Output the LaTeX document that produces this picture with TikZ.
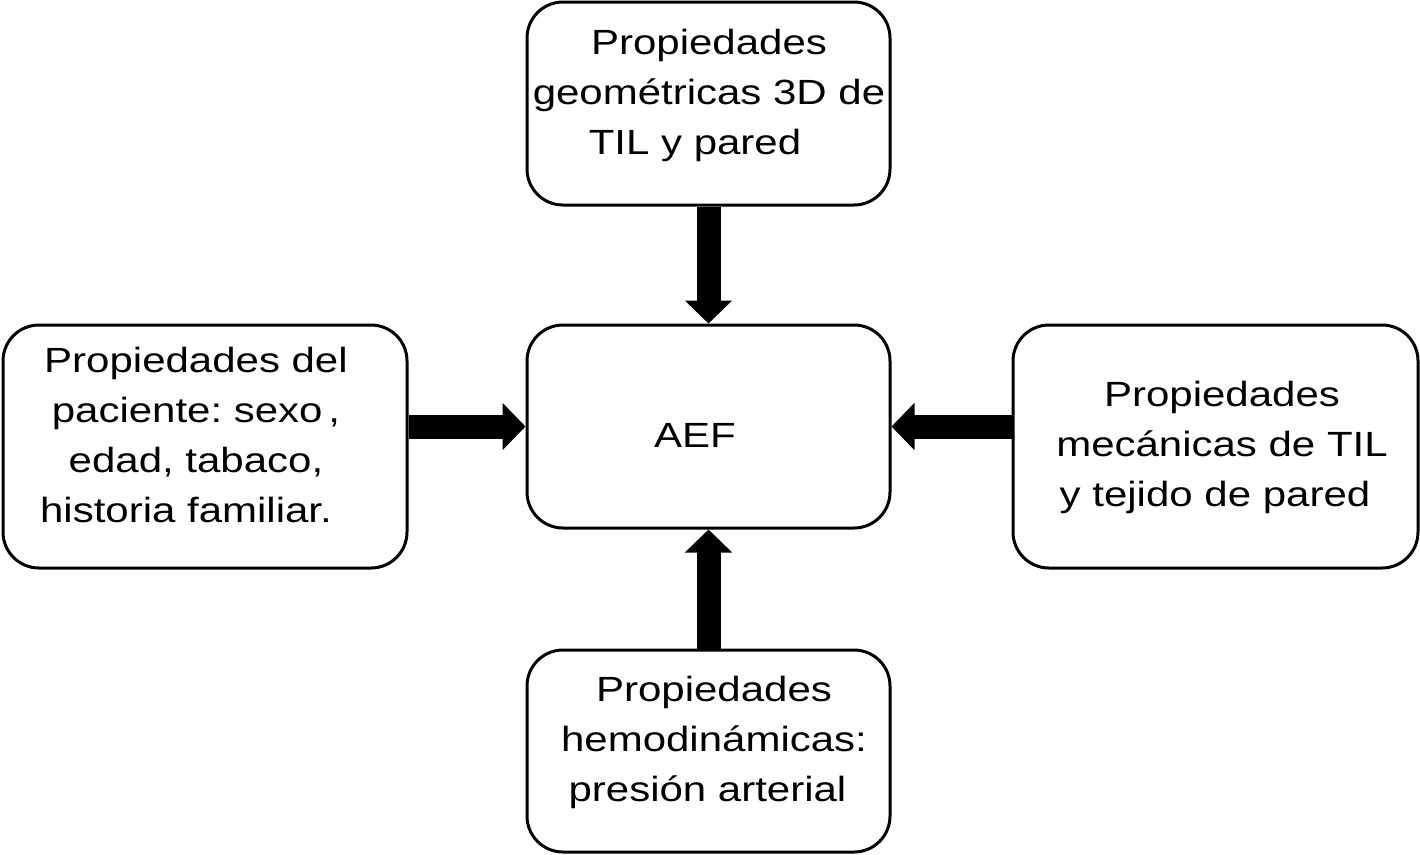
\documentclass[tikz,border=0pt]{standalone}
\usepackage{fontspec}
\setmainfont[FakeStretch=1.2]{Liberation Sans}
\usetikzlibrary{arrows.meta}
\tikzset{
  box/.style={draw=black, line width=3pt, rounded corners=36pt, fill=white, inner sep=0pt},
  txt/.style={align=center, font=\fontsize{35}{50}\selectfont\frenchspacing, inner sep=0pt},
  fat/.style={line width=24pt, -{Triangle[width=46pt,length=23pt]}},
}
\begin{document}
\begin{tikzpicture}[x=1pt,y=-1pt]
\useasboundingbox (0,0) rectangle (1420,854);
\node[box, minimum width=363pt, minimum height=203pt] (top) at (708.5,103.5) {};
\node[box, minimum width=363pt, minimum height=203pt] (aef) at (708.5,426.5) {};
\node[box, minimum width=404pt, minimum height=243pt] (left) at (205,446.5) {};
\node[box, minimum width=405pt, minimum height=243pt] (right) at (1215.5,446.5) {};
\node[box, minimum width=363pt, minimum height=202pt] (bot) at (708.5,751) {};
\node[txt] (ttop) at (709,95) {Propiedades\\geométricas 3D de\\TIL y pared\kern28pt};
\node[txt] (taef) at (695,435) {AEF};
\node[txt] (tleft) at (196,435) {Propiedades del\\paciente: sexo\,,\\edad, tabaco,\\historia familiar.\kern20pt};
\node[txt] (tright) at (1222,447) {Propiedades\\mecánicas de TIL\\y tejido de pared\kern14pt};
\node[txt] (tbot) at (714,742) {Propiedades\\hemodinámicas:\\presión arterial\kern13pt};
\draw[fat] (top.south) -- (aef.north);
\draw[fat] (bot.north) -- (aef.south);
\draw[fat] (left.east |- aef.west) -- (aef.west);
\draw[fat] (right.west |- aef.east) -- (aef.east);
\end{tikzpicture}
\end{document}
